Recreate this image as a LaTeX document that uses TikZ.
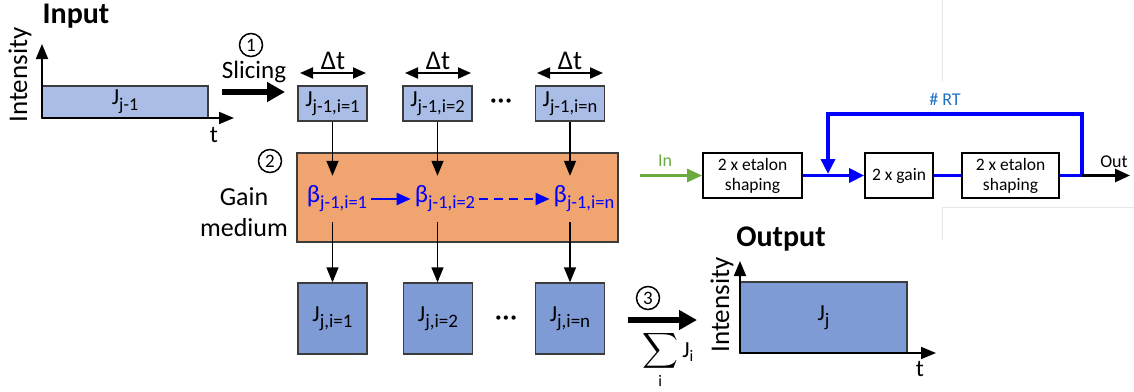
\documentclass[tikz,border=0pt]{standalone}
\usepackage{fontspec}
\usepackage{amsmath}
\setmainfont{Carlito}
\newfontfamily\dejavu{DejaVu Sans}
\usetikzlibrary{arrows.meta}
\definecolor{lightblue}{HTML}{A9BDE6}
\definecolor{midblue}{HTML}{7F9BD5}
\definecolor{orangefill}{HTML}{F0A470}
\definecolor{edgegray}{HTML}{3C3C3C}
\definecolor{ingreen}{HTML}{6AAA3E}
\definecolor{rtblue}{HTML}{2070C8}
\definecolor{pureblue}{HTML}{0000FF}
\definecolor{faintgray}{HTML}{E6E6E6}
\newcommand{\fsz}[1]{\fontsize{#1}{#1}\selectfont}
% main text, subscript, main size, subscript size
\newcommand{\sublbl}[4]{{\fsz{#3}#1}\raisebox{-6pt}{\fsz{#4}#2}}
\begin{document}
\begin{tikzpicture}[x=1pt,y=-1pt,
  slicebox/.style={draw=edgegray,line width=1.3,fill=lightblue,minimum width=69,minimum height=35,inner sep=0},
  resbox/.style={draw=edgegray,line width=1.3,fill=midblue,minimum width=69,minimum height=71,inner sep=0},
  sigbox/.style={draw=edgegray,line width=1.3,inner sep=0},
  flowarr/.style={line width=1.4,-{Triangle[length=15,width=12]}},
  axisarr/.style={line width=1.8,-{Triangle[length=15,width=12]}},
  dtarr/.style={line width=1.8,{Triangle[length=13,width=11]}-{Triangle[length=13,width=11]}},
  thickarr/.style={line width=6.5,-{Triangle[length=18,width=19]}},
  stepnum/.style={circle,draw,line width=1.5,minimum size=23,inner sep=0,font=\fsz{19}},
  betanode/.style={text=pureblue,minimum height=46,inner ysep=0,inner xsep=4},
  betaarr/.style={pureblue,line width=2.2,-{Triangle[length=14,width=12]}},
  etbox/.style={draw=black,line width=1.8,minimum height=45,align=center,inner sep=0,font=\fontsize{17.5}{20}\selectfont},
  blueline/.style={pureblue,line width=3.5},
  bluearr/.style={pureblue,line width=3.5,-{Triangle[length=15,width=14]}},
  lbl/.style={inner sep=0},
  dots/.style={inner sep=0,font=\dejavu\bfseries\fsz{12}}
]
\useasboundingbox (0,0) rectangle (1134,391);

% faint screenshot edges
\draw[faintgray,line width=0.8] (942,0) -- (942,82);
\draw[faintgray,line width=0.8] (942,207) -- (1134,207);
\draw[faintgray,line width=0.8] (942,207) -- (942,240);

% ---------------- Input ----------------
\node[lbl,font=\bfseries\fsz{30}] (inlbl) at (76,16) {Input};
\node[lbl,rotate=90,font=\fsz{27}] (inint) at (20,75) {Intensity};
\coordinate (o1) at (42,118);
\coordinate (ytip1) at (42,44);
\coordinate (xtip1) at (234,118);
\node[sigbox,fill=lightblue,minimum width=166,minimum height=32] (jin) at (125,102) {\sublbl{J}{j-1}{23}{18}};
\draw[axisarr] (o1) -- (ytip1);
\draw[axisarr] (o1) -- (xtip1);
\node[lbl,font=\fsz{24}] (t1) at (214,135) {t};

% ---------------- Slicing ----------------
\node[stepnum] (n1) at (251,45) {1};
\node[lbl,font=\fsz{25}] (slic) at (254,72) {Slicing};
\coordinate (s1a) at (222,92);
\coordinate (s1b) at (285,92);
\draw[thickarr] (s1a) -- (s1b);

\node[slicebox] (a1) at (332.5,103.5) {\sublbl{J}{j-1,i=1}{23}{18.5}};
\node[slicebox] (a2) at (437.5,103.5) {\sublbl{J}{j-1,i=2}{23}{18.5}};
\node[slicebox] (a3) at (570,103.5) {\sublbl{J}{j-1,i=n}{23}{18.5}};
\node[dots] (d1) at (501,102) {•••};

\foreach \c/\xl/\xr in {1/300/366, 2/405/471, 3/537/603}{
  \coordinate (dl\c) at (\xl,73);
  \coordinate (dr\c) at (\xr,73);
  \draw[dtarr] (dl\c) -- (dr\c);
}
\node[lbl,font=\fsz{27}] (dt1) at (333,61) {Δt};
\node[lbl,font=\fsz{27}] (dt2) at (438,61) {Δt};
\node[lbl,font=\fsz{27}] (dt3) at (570,61) {Δt};

% ---------------- Gain medium ----------------
\node[stepnum] (n2) at (270,161) {2};
\node[lbl,align=center,font=\fontsize{26}{31}\selectfont] (gm) at (244,212) {Gain\\medium};
\node[draw=edgegray,line width=1.3,fill=orangefill,minimum width=321,minimum height=89,inner sep=0] (gain) at (457.5,197.5) {};

\node[betanode] (b1) at (337,199) {\sublbl{β}{j-1,i=1}{25}{18.5}};
\node[betanode] (b2) at (445,199) {\sublbl{β}{j-1,i=2}{25}{18.5}};
\node[betanode] (b3) at (584,199) {\sublbl{β}{j-1,i=n}{25}{18.5}};
\draw[betaarr] (b1.east) -- (b2.west);
\draw[betaarr,dash pattern=on 9pt off 6pt] (b2.east) -- (b3.west);

\node[resbox] (c1) at (332.5,318.5) {\sublbl{J}{j,i=1}{23}{19}};
\node[resbox] (c2) at (438,318.5) {\sublbl{J}{j,i=2}{23}{19}};
\node[resbox] (c3) at (570,318.5) {\sublbl{J}{j,i=n}{23}{19}};
\node[dots] (d2) at (506,319) {•••};

\foreach \k in {1,2,3}{
  \draw[flowarr] (a\k.south) -- (a\k.south |- b\k.north);
  \draw[flowarr] (a\k.south |- b\k.south) -- (a\k.south |- c\k.north);
}

% ---------------- Summation ----------------
\node[stepnum] (n3) at (648,298) {3};
\coordinate (s3a) at (628,320);
\coordinate (s3b) at (697,320);
\draw[thickarr] (s3a) -- (s3b);
\node[lbl,font=\fsz{23}] (sum) at (668,360) {$\displaystyle\sum_{\text{i}}\text{J}_{\text{i}}$};

% ---------------- Output ----------------
\node[lbl,font=\bfseries\fsz{30}] (outlbl) at (781,239) {Output};
\node[lbl,rotate=90,font=\fsz{27}] (outint) at (722,305) {Intensity};
\coordinate (o2) at (740,353);
\coordinate (ytip2) at (740,261);
\coordinate (xtip2) at (936,353);
\node[sigbox,fill=midblue,minimum width=167,minimum height=71] (jout) at (823.5,317.5) {\sublbl{J}{j}{23}{19}};
\draw[axisarr] (o2) -- (ytip2);
\draw[axisarr] (o2) -- (xtip2);
\node[lbl,font=\fsz{24}] (t2) at (920,369) {t};

% ---------------- Round-trip model ----------------
\node[etbox,minimum width=99] (e1) at (752.5,175.5) {2 x etalon\\shaping};
\node[etbox,minimum width=68] (g1) at (899,175.5) {2 x gain};
\node[etbox,minimum width=97] (e2) at (1010.5,175.5) {2 x etalon\\shaping};
\coordinate (inp) at (640,175.5);
\coordinate (jr) at (1082,175.5);
\coordinate (jl) at (828,175.5);
\coordinate (tr) at (1082,114);
\coordinate (tl) at (828,114);
\coordinate (outp) at (1130,175.5);
\draw[ingreen,line width=2.8,-{Triangle[length=15,width=13]}] (inp) -- (e1.west);
\node[lbl,text=ingreen,font=\fsz{18}] (inl) at (665,161) {In};
\draw[bluearr] (e1.east) -- (g1.west);
\draw[blueline] (g1.east) -- (e2.west);
\draw[blueline] (e2.east) -- (jr);
\draw[bluearr,shorten >=1.5] (jr) -- (tr) -- (tl) -- (jl);
\draw[line width=2.8,-{Triangle[length=15,width=13]}] (jr) -- (outp);
\node[lbl,text=rtblue,font=\fsz{18}] (rt) at (945,99) {\# RT};
\node[lbl,font=\fsz{18}] (outl) at (1114,162) {Out};
\end{tikzpicture}
\end{document}
